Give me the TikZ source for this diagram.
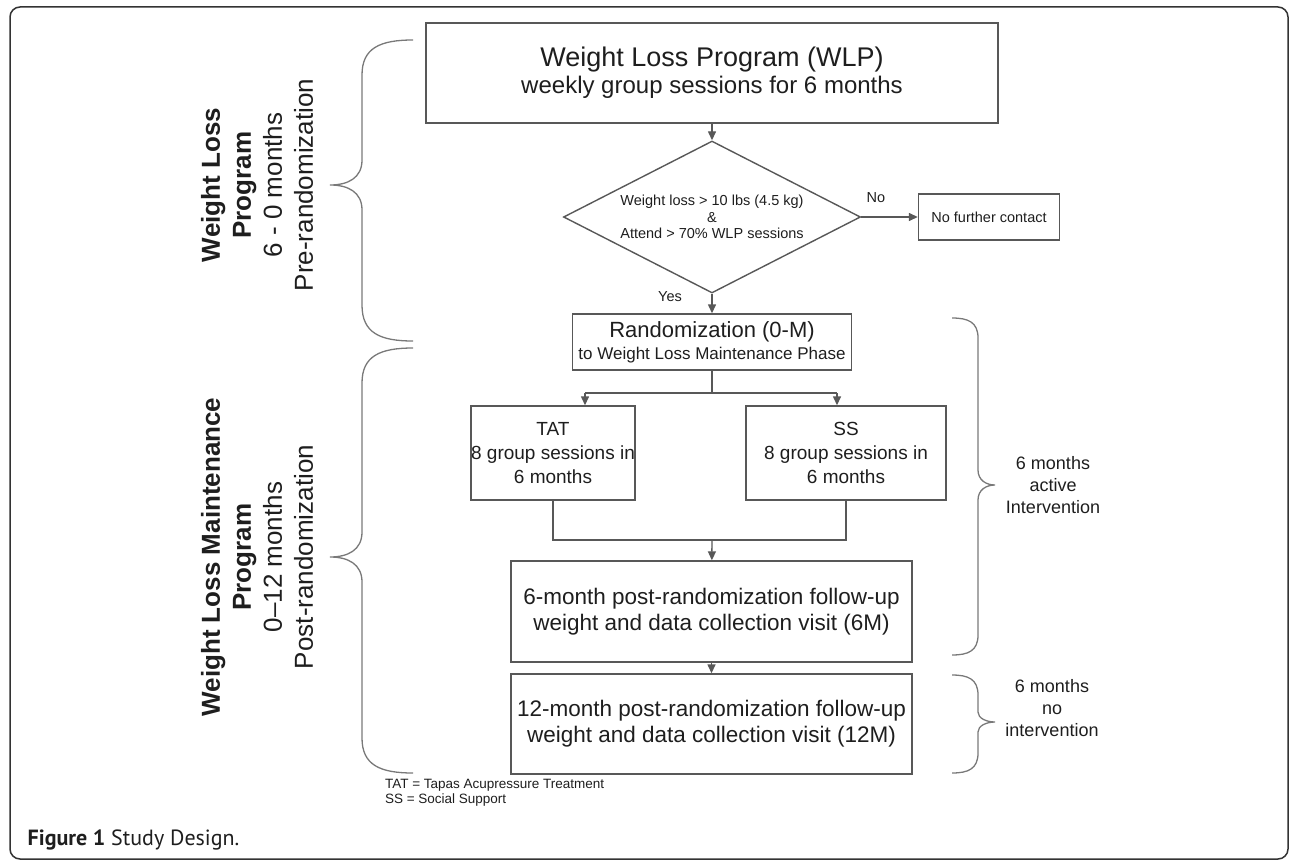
\documentclass[tikz,border=0pt]{standalone}
\usepackage{fontspec}
\setmainfont{Liberation Sans}
\newfontfamily\capfont{PT Sans}
\usetikzlibrary{positioning,shapes.geometric,arrows.meta}
\definecolor{boxgray}{RGB}{88,88,88}
\definecolor{inkgray}{RGB}{30,30,30}

\begin{document}
\begin{tikzpicture}[
    x=1pt, y=-1pt,
    line width=1.4pt,
    box/.style={draw=boxgray, align=center, inner sep=0pt, text=inkgray},
    arrow/.style={-{Triangle[length=9pt,width=8pt]}, draw=boxgray},
    link/.style={draw=boxgray},
    brace/.style={draw=boxgray!80, line width=1.3pt},
    side/.style={align=center, rotate=90, text=inkgray, font=\fontsize{26}{31}\selectfont},
    note/.style={align=center, text=inkgray}
  ]
    \useasboundingbox (0,0) rectangle (1290,867);
    \draw[black!80, line width=1.5pt, rounded corners=10pt] (10,7) rectangle (1288,859);

    \node[box, minimum width=572pt, minimum height=100pt] (wlp) at (712,73) {\fontsize{27}{30}\selectfont Weight Loss Program (WLP)\\[3pt]\fontsize{24}{30}\selectfont weekly group sessions for 6 months};
    \node[box, diamond, aspect=1.95, minimum width=297pt, minimum height=152pt, font=\fontsize{14.5}{16.5}\selectfont] (check) at (712,217) {Weight loss > 10 lbs (4.5 kg)\\\&\\Attend > 70\% WLP sessions};
    \node[box, minimum width=141pt, minimum height=46pt, font=\fontsize{14.5}{16}\selectfont] (stop) at (989,217) {No further contact};
    \node[box, minimum width=279pt, minimum height=56pt] (rand) at (712,342) {\fontsize{22}{24}\selectfont Randomization (0-M)\\[4pt]\fontsize{17}{25}\selectfont to Weight Loss Maintenance Phase};
    \node[box, minimum width=152pt, minimum height=94pt, font=\fontsize{19}{24}\selectfont] (tat) at (553,453) {TAT\\8 group sessions in\\6 months};
    \node[box, minimum width=200pt, minimum height=94pt, font=\fontsize{19}{24}\selectfont] (ss) at (846,453) {SS\\8 group sessions in\\6 months};
    \node[box, minimum width=401pt, minimum height=101pt, font=\fontsize{22.5}{26}\selectfont] (fu6) at (711.5,611.5) {6-month post-randomization follow-up\\weight and data collection visit (6M)};
    \node[box, minimum width=401pt, minimum height=100pt, font=\fontsize{22.5}{26}\selectfont] (fu12) at (711.5,724) {12-month post-randomization follow-up\\weight and data collection visit (12M)};

    \coordinate (split) at (712,393);
    \coordinate (splitL) at (585,393);
    \coordinate (splitR) at (837,393);
    \coordinate (join) at (712,540);

    \draw[arrow] (wlp) -- (check);
    \draw[arrow] (check.east) -- (stop);
    \draw[arrow] (check.south) -- (rand);
    \draw[link] (rand.south) -- (split);
    \draw[link] (splitL) -- (splitR);
    \draw[arrow] (splitL) -- (splitL |- tat.north);
    \draw[arrow] (splitR) -- (splitR |- ss.north);
    \draw[link] (tat.south) -- (tat.south |- join) -- (ss.south |- join) -- (ss.south);
    \draw[arrow] (join) -- (fu6);
    \draw[arrow] (fu6) -- (fu12);

    \node[note, font=\fontsize{14.5}{16}\selectfont] (no) at (876,198) {No};
    \node[note, font=\fontsize{14.5}{16}\selectfont] (yes) at (670,297) {Yes};

    % braces on the left
    \draw[brace] (413,40) .. controls (380,40) and (362,48) .. (362,75) -- (362,160)
      .. controls (362,178) and (348,185) .. (330,185) .. controls (348,185) and (362,192) .. (362,210)
      -- (362,305) .. controls (362,333) and (380,341) .. (413,341);
    \draw[brace] (413,348) .. controls (380,348) and (362,356) .. (362,383) -- (362,532)
      .. controls (362,550) and (348,557) .. (330,557) .. controls (348,557) and (362,564) .. (362,582)
      -- (362,738) .. controls (362,765) and (380,773) .. (413,773);
    % braces on the right
    \draw[brace] (952,318) .. controls (968,318) and (978,322) .. (978,338) -- (978,470)
      .. controls (978,480) and (986,485) .. (995,485) .. controls (986,485) and (978,490) .. (978,500)
      -- (978,635) .. controls (978,651) and (968,655) .. (952,655);
    \draw[brace] (952,675) .. controls (968,675) and (978,679) .. (978,695) -- (978,712)
      .. controls (978,718) and (986,722) .. (995,722) .. controls (986,722) and (978,726) .. (978,732)
      -- (978,753) .. controls (978,769) and (968,773) .. (952,773);

    \node[side] (pre) at (257,185) {\textbf{Weight Loss}\\\textbf{Program}\\6 - 0 months\\Pre-randomization};
    \node[side] (post) at (257,557) {\textbf{Weight Loss Maintenance}\\\textbf{Program}\\0--12 months\\Post-randomization};
    \node[note, font=\fontsize{18}{22}\selectfont] (active) at (1053,485) {6 months\\active\\Intervention};
    \node[note, font=\fontsize{18}{22}\selectfont] (passive) at (1052,708) {6 months\\no\\intervention};

    \node[note, anchor=west, font=\fontsize{13.5}{15}\selectfont] (keytat) at (381,785) {TAT = Tapas Acupressure Treatment};
    \node[note, anchor=west, font=\fontsize{13.5}{15}\selectfont] (keyss) at (381,800) {SS = Social Support};
    \node[anchor=base west, text=inkgray, inner sep=0pt, font=\capfont\fontsize{22}{24}\selectfont] (caption) at (27,845) {\textbf{Figure 1} Study Design.};
  \end{tikzpicture}
\end{document}
